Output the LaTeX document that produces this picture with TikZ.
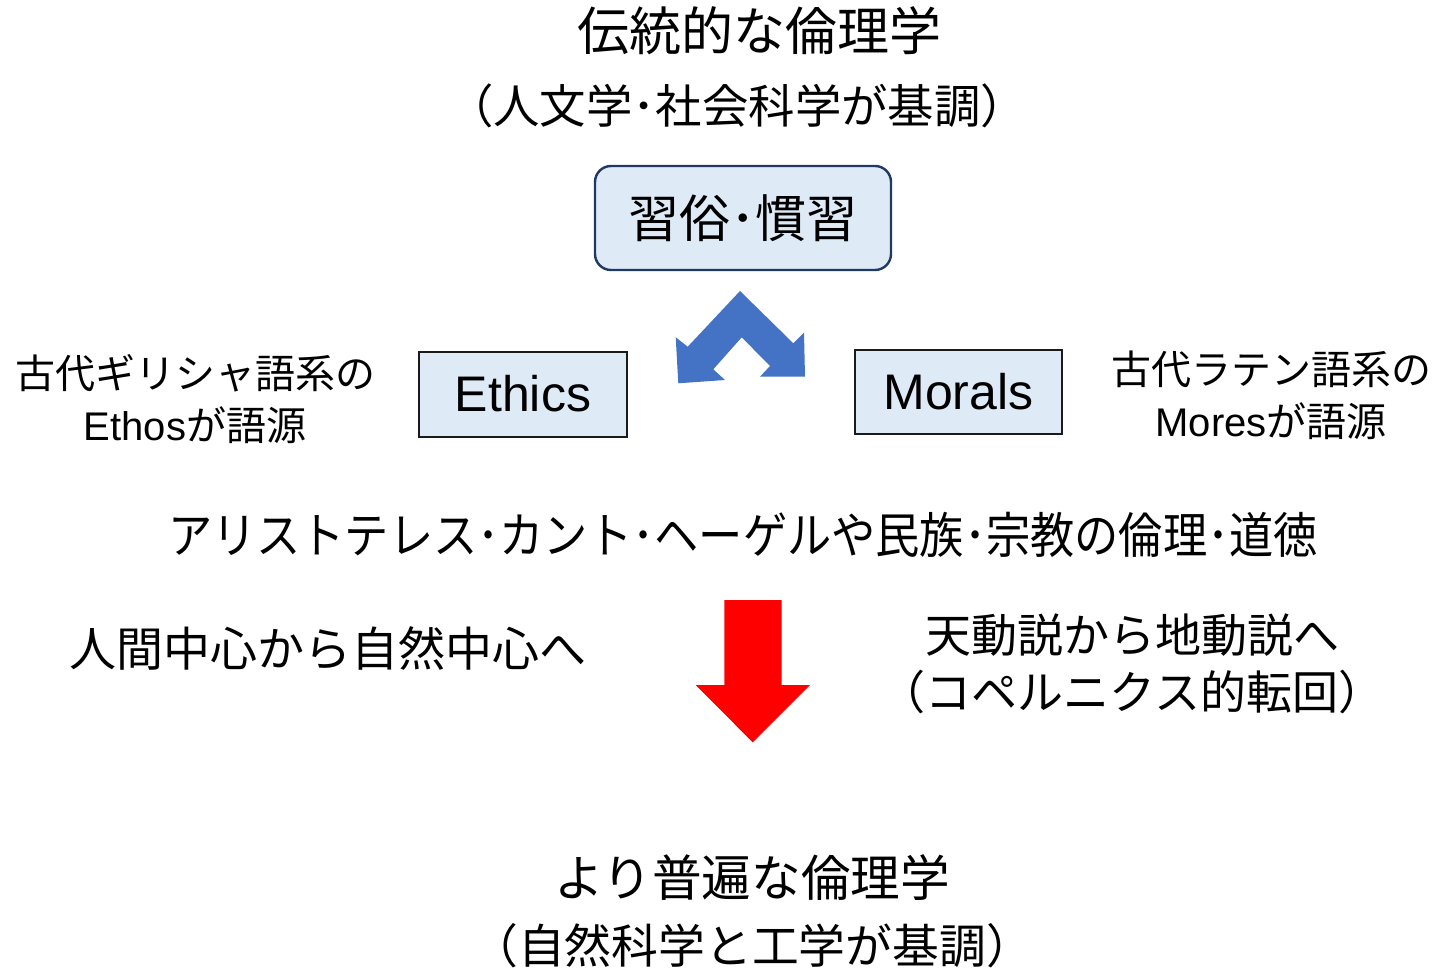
\documentclass[tikz,border=0pt]{standalone}
\usepackage{fontspec}
\setmainfont{Noto Sans CJK JP}
\newfontfamily\lat{Liberation Sans}
\usepackage{graphicx}
\definecolor{boxfill}{HTML}{DEEBF7}
\definecolor{navy}{HTML}{1F3864}
\definecolor{arrowblue}{HTML}{4472C4}
\definecolor{darkline}{HTML}{1A1A1A}
\tikzset{
  txt/.style={inner sep=0pt, align=center},
  roundbox/.style={draw=navy, line width=1.2pt, fill=boxfill, rounded corners=8pt, inner sep=0pt},
  wordbox/.style={draw=darkline, line width=1pt, fill=boxfill, inner sep=0pt},
}
\begin{document}
\begin{tikzpicture}[x=0.5pt,y=-0.5pt]
\useasboundingbox (0,0) rectangle (1435,973);
% titles
\node[txt, font=\fontsize{26}{30}\selectfont] (title1) at (759,31) {伝統的な倫理学};
\node[txt, font=\fontsize{23.2}{27}\selectfont] (sub1) at (737,106) {（人文学･社会科学が基調）};
% top box
\node[roundbox, minimum width=148pt, minimum height=52pt] (custom) at (743,218) {};
\node[txt, font=\fontsize{25.5}{30}\selectfont] (customtxt) at (custom.center) {習俗･慣習};
% double arrow
\fill[arrowblue] (740,291) -- (793.3,343.3) -- (804,332.7) -- (805,376.7) -- (760,376.7) -- (770,366)
  -- (741.7,337.3) -- (713.3,369.3) -- (725,380) -- (678.3,383.3) -- (675.7,337.3) -- (687.7,346.7) -- cycle;
% word boxes
\node[wordbox, minimum width=104pt, minimum height=42.5pt] (ethics) at (523,394) {};
\node[txt, font=\lat\fontsize{25}{30}\selectfont] (ethicstxt) at (ethics.center) {Ethics};
\node[wordbox, minimum width=103.5pt, minimum height=42pt] (morals) at (958.5,392) {};
\node[txt, font=\lat\fontsize{25}{30}\selectfont] (moralstxt) at (morals.center) {Morals};
% side notes
\node[txt, font=\fontsize{20}{26}\selectfont] (greek) at (195,399) {古代ギリシャ語系の\\{\lat Ethos}が語源};
\node[txt, font=\fontsize{20}{26}\selectfont] (latin) at (1271,395) {古代ラテン語系の\\{\lat Mores}が語源};
% middle line
\node[txt, font=\fontsize{24.5}{28}\selectfont] (history) at (743,535) {\resizebox{575pt}{\height}{アリストテレス･カント･ヘーゲルや民族･宗教の倫理･道徳}};
% left / right notes
\node[txt, font=\fontsize{23.5}{28}\selectfont] (human) at (328,648) {人間中心から自然中心へ};
\node[txt, font=\fontsize{23}{28.5}\selectfont] (helio) at (1132,664) {天動説から地動説へ\\（コペルニクス的転回）};
% red arrow
\fill[red] (724.3,600) -- (781.7,600) -- (781.7,685) -- (810,685) -- (752.7,742.3) -- (695.7,685) -- (724.3,685) -- cycle;
% bottom titles
\node[txt, font=\fontsize{24.8}{30}\selectfont] (title2) at (752,878) {より普遍な倫理学};
\node[txt, font=\fontsize{23.4}{28}\selectfont] (sub2) at (752,946) {（自然科学と工学が基調）};
\end{tikzpicture}
\end{document}
